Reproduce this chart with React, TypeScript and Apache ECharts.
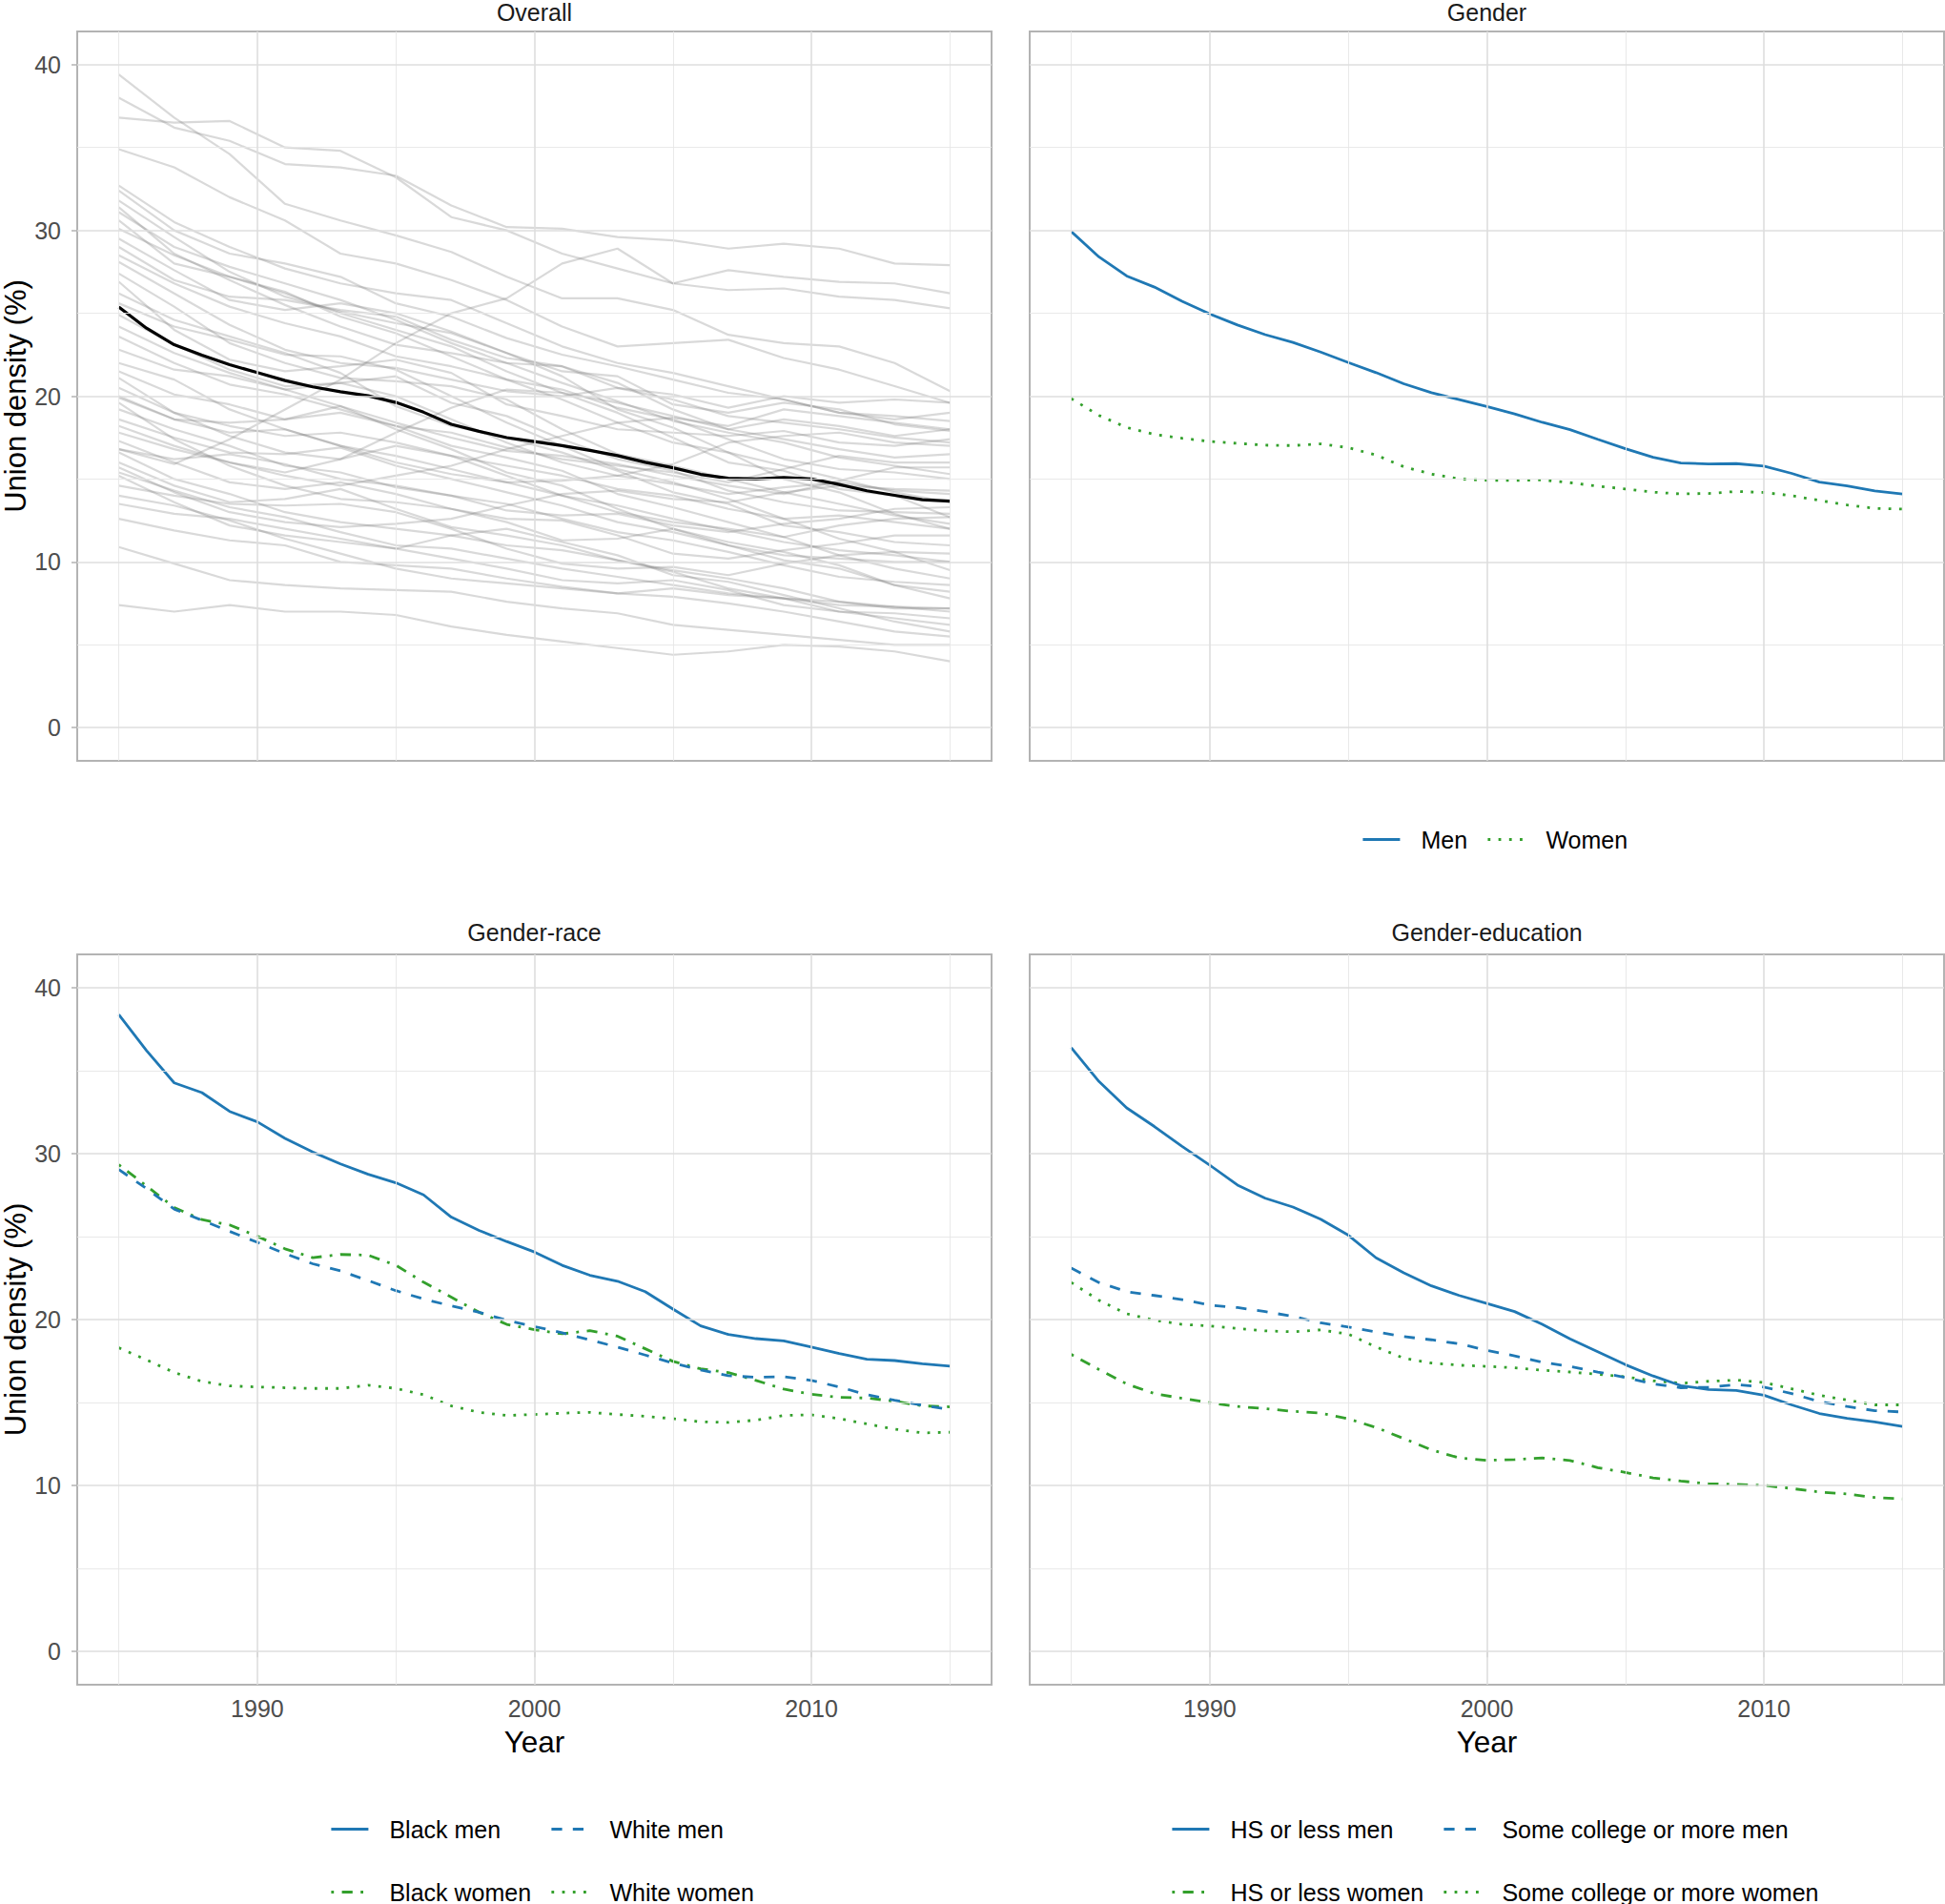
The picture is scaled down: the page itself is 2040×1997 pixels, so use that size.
import React, { useEffect, useRef } from "react";
import * as echarts from "echarts";

// ---------- data ----------
const YEARS = [1985,1986,1987,1988,1989,1990,1991,1992,1993,1994,1995,1996,1997,1998,1999,2000,2001,2002,2003,2004,2005,2006,2007,2008,2009,2010,2011,2012,2013,2014,2015];
const GRAY_YEARS = [1985,1987,1989,1991,1993,1995,1997,1999,2001,2003,2005,2007,2009,2011,2013,2015];

const OVERALL_MEAN = [25.38,24.1,23.1,22.47,21.9,21.42,20.94,20.56,20.27,20.02,19.62,19.03,18.3,17.88,17.5,17.26,17.02,16.73,16.41,16.01,15.68,15.28,15.05,15.01,15.09,15.01,14.67,14.29,14.02,13.75,13.67];

const STATE_LINES = [
  [39.4,36.8,34.6,31.6,30.6,29.7,28.7,27.2,25.9,25.9,25.2,23.7,23.2,23.0,22.0,20.3],
  [38.0,36.2,35.4,34.0,33.8,33.3,31.5,30.2,30.1,29.6,29.4,28.9,29.2,28.9,28.0,27.9],
  [36.8,36.5,36.6,35.0,34.8,33.2,30.8,30.0,28.6,27.7,26.8,27.6,27.2,26.9,26.8,26.2],
  [34.9,33.8,32.0,30.6,28.6,28.0,27.0,25.8,24.2,23.0,23.2,23.4,22.3,21.6,20.6,19.6],
  [32.7,30.5,29.0,27.7,26.8,26.2,25.8,24.4,23.0,22.0,21.4,20.6,19.8,19.0,18.6,19.0],
  [32.4,30.0,28.6,28.0,27.2,25.6,24.8,23.5,22.5,21.8,21.0,20.2,19.8,19.0,18.8,18.5],
  [31.8,29.6,27.5,26.0,25.1,24.4,23.8,22.6,21.5,21.2,19.5,19.0,19.6,19.2,18.3,17.9],
  [31.4,28.6,27.0,25.5,24.2,23.1,22.6,22.0,21.8,20.5,19.8,18.8,18.4,18.0,17.5,17.2],
  [31.1,29.0,27.8,26.8,25.8,24.6,23.2,22.0,20.8,19.7,18.5,17.8,17.2,16.3,15.8,15.3],
  [30.6,28.0,27.2,26.3,24.8,23.8,22.4,21.0,19.8,18.4,17.2,16.6,15.8,15.0,14.2,13.6],
  [30.1,28.5,27.2,26.2,25.0,24.0,23.0,21.5,20.2,19.0,17.5,16.0,15.5,14.4,14.0,12.7],
  [29.5,27.6,25.8,25.2,25.6,25.0,23.9,22.6,21.2,19.2,18.1,16.6,15.0,14.2,12.9,12.0],
  [29.0,27.0,26.0,25.8,25.2,24.8,23.4,22.3,21.8,20.8,19.2,18.0,17.4,16.8,16.3,16.5],
  [28.5,26.8,25.4,24.4,23.6,22.4,21.8,21.0,20.4,19.3,18.6,17.4,16.2,15.6,15.4,15.0],
  [28.1,26.2,24.3,22.8,22.0,21.7,21.0,20.3,20.0,20.5,20.1,19.3,20.0,19.6,19.8,19.6],
  [27.4,25.4,23.2,22.0,21.1,20.9,20.6,19.8,18.0,16.5,15.8,15.0,14.2,13.5,12.8,12.3],
  [26.9,24.0,22.2,21.5,21.8,22.2,21.4,19.5,18.8,18.0,17.8,17.6,17.9,17.2,17.0,17.4],
  [26.2,24.6,23.6,22.6,21.4,19.4,18.2,17.5,16.6,15.5,14.2,13.5,12.2,11.8,11.2,11.0],
  [25.6,24.2,23.4,22.5,22.4,21.6,20.0,18.4,17.0,15.6,14.8,13.8,12.6,11.4,10.6,9.5],
  [16.8,15.9,17.4,19.2,21.0,23.2,25.0,25.9,28.0,28.9,26.8,26.4,26.5,26.0,25.8,25.3],
  [24.9,23.1,21.6,20.6,20.8,20.0,18.6,17.2,16.0,15.2,14.7,14.1,14.5,14.8,14.3,14.1],
  [24.2,22.6,21.4,20.4,19.4,18.0,16.8,15.4,14.6,13.2,12.0,11.2,10.6,9.8,8.6,7.8],
  [23.6,22.0,20.7,20.1,19.2,18.2,17.0,16.3,15.5,14.1,13.3,12.4,11.5,10.4,9.6,9.0],
  [22.8,21.6,21.2,20.4,20.8,21.2,19.6,18.8,17.4,16.2,15.5,14.3,13.6,13.1,13.0,12.9],
  [22.0,21.0,19.2,18.0,17.0,16.4,15.6,14.8,14.0,13.4,12.6,11.9,11.2,10.7,10.4,10.0],
  [21.5,20.1,19.5,18.6,19.4,18.4,17.5,16.7,16.4,15.9,15.2,14.6,14.1,14.9,15.7,15.7],
  [21.1,19.0,17.6,16.6,16.2,17.8,19.3,20.4,20.2,19.6,18.8,18.0,18.6,18.2,17.6,18.0],
  [20.5,19.0,18.2,17.6,17.8,17.2,16.4,15.8,15.2,14.4,14.0,13.2,12.6,12.8,12.4,12.0],
  [20.0,18.6,17.8,18.0,17.0,16.0,15.3,14.8,14.9,15.2,15.9,17.2,17.6,17.8,17.2,17.0],
  [19.9,18.6,18.4,18.6,19.0,18.2,17.8,16.9,16.2,15.8,15.4,14.8,15.6,16.4,16.0,16.0],
  [19.6,17.4,15.8,14.6,13.8,13.6,13.2,12.6,12.5,11.6,10.5,10.2,10.7,11.1,11.6,11.6],
  [19.2,18.0,17.0,15.8,15.4,14.5,14.0,13.5,12.6,11.8,11.3,10.6,9.8,9.1,8.8,8.6],
  [18.6,17.5,16.6,16.5,16.9,15.8,15.0,14.2,13.4,12.4,11.8,11.0,10.1,9.6,8.6,8.2],
  [18.2,17.0,16.0,15.4,16.2,17.0,16.4,15.2,14.0,13.0,12.4,12.0,11.5,12.2,12.6,12.7],
  [17.8,16.8,16.0,15.2,14.6,15.2,15.8,16.8,17.6,18.4,18.7,18.2,19.2,18.8,18.4,18.0],
  [17.3,16.0,14.8,14.4,14.8,14.1,13.2,12.4,11.3,11.4,12.0,11.0,10.4,10.2,10.0,10.0],
  [16.8,16.2,16.5,15.9,15.0,14.6,14.0,13.1,12.8,12.9,12.2,11.8,12.3,12.6,13.2,13.3],
  [16.6,15.0,14.1,13.0,12.4,12.0,11.6,11.0,10.7,10.1,9.5,9.0,8.4,7.6,7.2,7.2],
  [16.0,14.6,13.6,13.8,14.4,13.2,12.1,11.6,11.0,10.1,9.4,8.4,7.8,7.4,7.3,7.0],
  [15.7,14.2,13.0,12.4,12.1,12.3,12.6,13.4,14.1,14.3,13.8,13.6,14.2,14.6,14.4,14.3],
  [15.4,14.3,13.3,12.7,11.8,11.0,10.8,10.2,9.6,9.1,8.6,8.1,7.8,7.0,6.9,6.6],
  [15.2,13.6,12.2,11.6,11.2,10.8,11.6,12.0,11.2,10.4,9.2,8.8,8.0,7.2,6.4,5.8],
  [14.6,14.0,13.5,13.4,13.5,13.0,12.0,10.8,9.9,9.6,9.7,9.2,9.9,10.4,10.6,10.5],
  [14.0,13.4,12.5,11.4,10.5,9.6,9.0,8.7,8.4,8.1,7.9,7.5,7.0,6.4,5.8,5.5],
  [13.5,12.9,12.6,12.0,11.4,10.8,10.2,9.6,8.9,8.7,8.9,8.3,7.4,7.0,6.6,6.2],
  [12.6,11.9,11.3,11.0,10.0,9.8,9.6,9.0,8.5,8.1,8.4,8.0,7.8,7.6,7.3,7.2],
  [10.9,9.9,8.9,8.6,8.4,8.3,8.2,7.6,7.2,6.9,6.2,5.9,5.6,5.3,5.0,5.0],
  [7.4,7.0,7.4,7.0,7.0,6.8,6.1,5.6,5.2,4.8,4.4,4.6,5.0,4.9,4.6,4.0],
];

const MEN = [29.93,28.4,27.25,26.58,25.72,24.96,24.29,23.71,23.24,22.66,22.03,21.42,20.75,20.21,19.79,19.37,18.93,18.42,17.98,17.4,16.83,16.31,15.97,15.91,15.93,15.78,15.34,14.82,14.59,14.29,14.1];
const WOMEN = [19.85,18.84,18.11,17.69,17.46,17.27,17.15,17.04,17.02,17.12,16.89,16.45,15.74,15.3,15.01,14.92,14.92,14.95,14.78,14.57,14.4,14.21,14.1,14.13,14.25,14.19,14.0,13.71,13.44,13.23,13.19];

const BLACK_MEN = [38.37,36.21,34.26,33.67,32.54,31.91,30.91,30.09,29.38,28.75,28.24,27.51,26.17,25.37,24.7,24.07,23.27,22.67,22.31,21.68,20.63,19.62,19.1,18.85,18.72,18.34,17.95,17.61,17.53,17.34,17.19];
const WHITE_MEN = [29.04,27.89,26.65,25.98,25.31,24.65,23.97,23.36,22.93,22.35,21.74,21.24,20.82,20.44,19.96,19.58,19.2,18.77,18.34,17.86,17.38,16.96,16.62,16.52,16.56,16.33,15.94,15.47,15.14,14.84,14.57];
const BLACK_WOMEN = [29.33,28.05,26.75,26.02,25.7,25.02,24.26,23.73,23.92,23.88,23.27,22.25,21.35,20.44,19.71,19.39,19.14,19.33,19.0,18.24,17.48,17.03,16.81,16.33,15.81,15.5,15.31,15.27,15.08,14.8,14.74];
const WHITE_WOMEN = [18.3,17.57,16.81,16.27,16.0,15.94,15.89,15.85,15.85,16.04,15.85,15.47,14.8,14.41,14.22,14.28,14.36,14.41,14.28,14.17,14.03,13.84,13.8,13.94,14.22,14.26,14.03,13.71,13.4,13.17,13.21];

const HS_MEN = [36.38,34.34,32.75,31.63,30.43,29.3,28.1,27.31,26.78,26.05,25.08,23.72,22.81,22.03,21.45,20.97,20.48,19.71,18.84,18.06,17.28,16.6,16.02,15.79,15.73,15.44,14.86,14.34,14.05,13.83,13.56];
const COLLEGE_MEN = [23.1,22.23,21.68,21.45,21.2,20.87,20.72,20.48,20.19,19.8,19.55,19.26,18.97,18.78,18.54,18.15,17.81,17.42,17.18,16.84,16.51,16.12,15.89,15.93,16.08,15.93,15.54,15.06,14.76,14.51,14.43];
const HS_WOMEN = [17.9,16.99,16.12,15.54,15.25,14.99,14.76,14.63,14.47,14.37,14.02,13.5,12.83,12.15,11.66,11.52,11.56,11.66,11.51,11.08,10.79,10.46,10.27,10.11,10.07,10.01,9.82,9.61,9.49,9.28,9.2];
const COLLEGE_WOMEN = [22.23,21.16,20.35,19.96,19.71,19.61,19.46,19.32,19.26,19.38,19.12,18.35,17.67,17.38,17.25,17.18,17.09,16.95,16.84,16.7,16.55,16.31,16.16,16.28,16.35,16.21,15.83,15.44,15.15,14.86,14.86];

const PANEL_TITLES = ["Overall", "Gender", "Gender-race", "Gender-education"];
const X_TICKS = [1990, 2000, 2010];
const X_MINOR = [1985, 1995, 2005, 2015];
const Y_TICKS = [0, 10, 20, 30, 40];
const Y_MINOR = [5, 15, 25, 35];

// ---------- styles ----------
const FONT = "'Liberation Sans', Arial, sans-serif";
const BLUE = "#1f78b4";
const GREEN = "#33a02c";
const LW = 2.8;
const SOLID: any = "solid";
const DASHED = [11.2, 11.2];
const DOTTED = [2.8, 8.4];
const DOTDASH = [2.8, 8.4, 11.2, 8.4];

const GRIDS = [
  { left: 81, top: 33, width: 959, height: 765 },
  { left: 1080, top: 33, width: 959, height: 765 },
  { left: 81, top: 1001, width: 959, height: 766 },
  { left: 1080, top: 1001, width: 959, height: 766 },
];

function pairs(xs: number[], ys: number[]) {
  return xs.map((x, i) => [x, ys[i]]);
}

function buildOption() {
  const grid = GRIDS.map((g) => ({
    ...g,
    show: true,
    borderColor: "#b3b3b3",
    borderWidth: 2,
    backgroundColor: "rgba(0,0,0,0)",
    containLabel: false,
    outerBoundsMode: "none",
  }));

  const xAxis = GRIDS.map((_, i) => {
    const bottom = i >= 2;
    return {
      type: "value",
      gridIndex: i,
      min: 1983.5,
      max: 2016.5,
      axisLine: { show: false },
      splitLine: { show: false },
      axisTick: {
        show: bottom,
        customValues: X_TICKS,
        length: 6,
        lineStyle: { color: "#b3b3b3", width: 1.5 },
      },
      axisLabel: {
        show: bottom,
        customValues: X_TICKS,
        margin: 12,
        fontSize: 25,
        color: "#4d4d4d",
        fontFamily: FONT,
        formatter: (v: number) => String(v),
      },
      name: bottom ? "Year" : "",
      nameLocation: "middle",
      nameGap: 44,
      nameTextStyle: { fontSize: 31.5, color: "#000", fontFamily: FONT },
    };
  });

  const yAxis = GRIDS.map((_, i) => {
    const left = i % 2 === 0;
    return {
      type: "value",
      gridIndex: i,
      min: -2,
      max: 42,
      axisLine: { show: false },
      splitLine: { show: false },
      axisTick: {
        show: left,
        customValues: Y_TICKS,
        length: 6,
        lineStyle: { color: "#b3b3b3", width: 1.5 },
      },
      axisLabel: {
        show: left,
        customValues: Y_TICKS,
        margin: 17,
        fontSize: 25,
        color: "#4d4d4d",
        fontFamily: FONT,
        formatter: (v: number) => String(v),
      },
      name: left ? "Union density (%)" : "",
      nameLocation: "middle",
      nameRotate: 90,
      nameGap: 45,
      nameTextStyle: { fontSize: 31, color: "#000", fontFamily: FONT },
    };
  });

  const major = { color: "#dedede", width: 1.6, type: "solid" };
  const minor = { color: "#e6e6e6", width: 0.9, type: "solid" };
  const gridLineSeries = GRIDS.map((_, i) => ({
    type: "line",
    name: "gridlines" + i,
    xAxisIndex: i,
    yAxisIndex: i,
    data: [],
    silent: true,
    z: 1,
    markLine: {
      silent: true,
      animation: false,
      symbol: ["none", "none"],
      label: { show: false },
      emphasis: { disabled: true },
      lineStyle: { type: "solid" },
      data: [
        ...X_MINOR.map((v) => ({ xAxis: v, lineStyle: minor })),
        ...Y_MINOR.map((v) => ({ yAxis: v, lineStyle: minor })),
        ...X_TICKS.map((v) => ({ xAxis: v, lineStyle: major })),
        ...Y_TICKS.map((v) => ({ yAxis: v, lineStyle: major })),
      ],
    },
  }));

  const line = (name: string, grid: number, ys: number[], color: string, type: any, z = 3) => ({
    type: "line",
    name,
    xAxisIndex: grid,
    yAxisIndex: grid,
    data: pairs(YEARS, ys),
    symbol: "none",
    showSymbol: false,
    silent: true,
    z,
    itemStyle: { color },
    lineStyle: { color, width: LW, type, cap: "butt" },
    emphasis: { disabled: true },
  });

  const graySeries = STATE_LINES.map((ys, k) => ({
    type: "line",
    name: "state" + (k + 1),
    xAxisIndex: 0,
    yAxisIndex: 0,
    data: pairs(GRAY_YEARS, ys),
    symbol: "none",
    showSymbol: false,
    silent: true,
    z: 2,
    lineStyle: { color: "rgba(128,128,128,0.3)", width: 2.2 },
    emphasis: { disabled: true },
  }));

  const series: any[] = [
    ...gridLineSeries,
    ...graySeries,
    {
      type: "line",
      name: "Overall mean",
      xAxisIndex: 0,
      yAxisIndex: 0,
      data: pairs(YEARS, OVERALL_MEAN),
      symbol: "none",
      showSymbol: false,
      silent: true,
      z: 4,
      lineStyle: { color: "#000", width: 3.2 },
      emphasis: { disabled: true },
    },
    line("Men", 1, MEN, BLUE, SOLID),
    line("Women", 1, WOMEN, GREEN, DOTTED),
    line("White women", 2, WHITE_WOMEN, GREEN, DOTTED),
    line("Black women", 2, BLACK_WOMEN, GREEN, DOTDASH),
    line("White men", 2, WHITE_MEN, BLUE, DASHED),
    line("Black men", 2, BLACK_MEN, BLUE, SOLID),
    line("Some college or more women", 3, COLLEGE_WOMEN, GREEN, DOTTED),
    line("HS or less women", 3, HS_WOMEN, GREEN, DOTDASH),
    line("Some college or more men", 3, COLLEGE_MEN, BLUE, DASHED),
    line("HS or less men", 3, HS_MEN, BLUE, SOLID),
  ];

  const legendCommon = {
    itemWidth: 39,
    itemHeight: 24,
    padding: 0,
    height: 200,
    selectedMode: false,
    itemStyle: { opacity: 0 },
    lineStyle: { width: LW },
    textStyle: { fontSize: 25, lineHeight: 24, color: "#000", fontFamily: FONT, padding: [0, 0, 0, 17] },
  };
  const legend = [
    { ...legendCommon, data: ["Men", "Women"], orient: "horizontal", left: 1428, top: 868, itemGap: 20 },
    { ...legendCommon, data: ["Black men", "Black women"], orient: "vertical", left: 346, top: 1906, itemGap: 41 },
    { ...legendCommon, data: ["White men", "White women"], orient: "vertical", left: 577, top: 1906, itemGap: 41 },
    { ...legendCommon, data: ["HS or less men", "HS or less women"], orient: "vertical", left: 1228, top: 1906, itemGap: 41 },
    { ...legendCommon, data: ["Some college or more men", "Some college or more women"], orient: "vertical", left: 1513, top: 1906, itemGap: 41 },
  ];

  const graphic = PANEL_TITLES.map((t, i) => {
    const g = GRIDS[i];
    return {
      type: "text",
      x: g.left + g.width / 2,
      y: i < 2 ? 13 : 978,
      silent: true,
      style: {
        text: t,
        fontSize: 25,
        fontFamily: FONT,
        fill: "#1a1a1a",
        textAlign: "center",
        textVerticalAlign: "middle",
        align: "center",
        verticalAlign: "middle",
      },
    };
  });

  return {
    animation: false,
    backgroundColor: "#ffffff",
    grid,
    xAxis,
    yAxis,
    legend,
    graphic,
    series,
  };
}

export default function App() {
  const ref = useRef<HTMLDivElement>(null);
  useEffect(() => {
    const el = ref.current;
    if (!el) return;
    const chart = echarts.init(el, undefined, { renderer: "svg" });
    chart.setOption(buildOption() as any);
    return () => chart.dispose();
  }, []);
  return (
    <div
      ref={ref}
      style={{ position: "absolute", left: 0, top: 0, width: 2040, height: 1997, background: "#fff" }}
    />
  );
}
